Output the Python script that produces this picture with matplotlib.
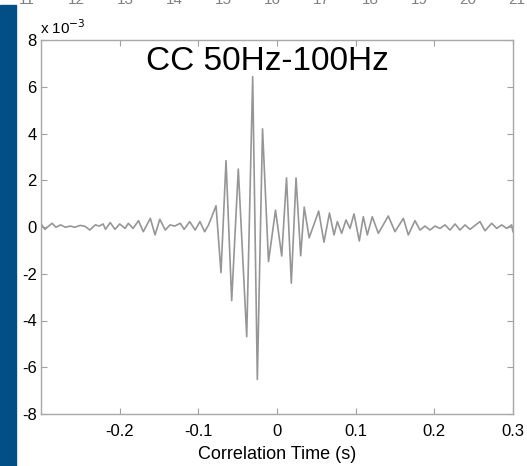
import matplotlib
matplotlib.use("Agg")
import matplotlib.pyplot as plt
from matplotlib.patches import Rectangle

plt.rcParams["font.family"] = ["Liberation Sans", "DejaVu Sans"]
plt.rcParams["axes.unicode_minus"] = False

# cross-correlation trace (time in s, amplitude in 1e-3)
t = [-0.299, -0.295, -0.286, -0.281, -0.275, -0.269, -0.263, -0.257, -0.250, -0.244,
     -0.238, -0.231, -0.226, -0.221, -0.218, -0.212, -0.206, -0.200, -0.193, -0.189,
     -0.183, -0.176, -0.170, -0.161, -0.155, -0.149, -0.142, -0.136, -0.130, -0.123,
     -0.118, -0.111, -0.104, -0.098, -0.092, -0.087,
     -0.0775, -0.0712, -0.0648, -0.0576, -0.0492, -0.0385, -0.0309, -0.0250, -0.0184,
     -0.0108, -0.0019, 0.0060, 0.0121, 0.0182, 0.0242, 0.0301, 0.0346, 0.0409, 0.0530,
     0.0597, 0.0667, 0.0725, 0.0767, 0.0822, 0.0877, 0.0928, 0.0979, 0.1046, 0.1097,
     0.1148, 0.1211, 0.1288, 0.1415, 0.1500, 0.1606, 0.1669, 0.1754, 0.1818, 0.1881,
     0.1945, 0.2008, 0.2072, 0.2136, 0.2199, 0.2263, 0.2326, 0.2390, 0.2453, 0.2580,
     0.2644, 0.2729, 0.2793, 0.2856, 0.2920, 0.2983, 0.3000]
amp = [0.09, -0.10, 0.16, -0.01, 0.09, -0.01, 0.04, -0.01, 0.07, 0.03,
       -0.13, 0.09, 0.04, 0.13, -0.10, 0.19, -0.10, 0.13, -0.06, 0.16,
       -0.06, 0.27, -0.20, 0.37, -0.34, 0.33, -0.13, 0.09, 0.04, 0.16,
       -0.10, 0.23, -0.13, 0.23, -0.20, 0.09,
       0.91, -1.95, 2.84, -3.15, 2.48, -4.69, 6.43, -6.52, 4.20,
       -1.48, 0.72, -1.24, 2.10, -2.40, 2.10, -1.23, 0.85, -0.46, 0.68,
       -0.65, 0.60, -0.34, 0.23, -0.27, 0.30, -0.06, 0.56, -0.60, 0.44,
       -0.34, 0.44, -0.27, 0.47, -0.20, 0.37, -0.34, 0.27, -0.13, 0.04,
       -0.13, 0.04, -0.06, 0.09, -0.13, 0.13, -0.13, 0.09, -0.10, 0.23,
       -0.16, 0.16, -0.06, 0.09, -0.06, 0.09, -0.20]

x_ticks = [-0.2, -0.1, 0, 0.1, 0.2, 0.3]
x_labels = ["-0.2", "-0.1", "0", "0.1", "0.2", "0.3"]
y_ticks = [-8, -6, -4, -2, 0, 2, 4, 6, 8]
slide_numbers = ["11", "12", "13", "14", "15", "16", "17", "18", "19", "20", "21"]

W, H = 527, 466
fig = plt.figure(figsize=(W / 100, H / 100), dpi=100)

# blue slide bar on the left
fig.patches.append(Rectangle((0, 0), 16 / W, 461 / H, transform=fig.transFigure,
                             color="#024e86", zorder=0))
# numbers cut off at the top edge of the slide (only their lower part shows)
for i, s in enumerate(slide_numbers):
    fig.text((27 + 49 * i) / W, 1 - 4 / H, s, fontsize=11, color="#808080",
             ha="center", va="baseline")

ax = fig.add_axes([41 / W, 1 - 414 / H, 472 / W, 374 / H])
ax.plot(t, amp, color="#969696", lw=1.2, solid_joinstyle="round")

ax.set_xlim(-0.3, 0.3)
ax.set_ylim(-8, 8)
ax.set_xticks(x_ticks)
ax.set_xticklabels(x_labels)
ax.set_yticks(y_ticks)
ax.set_yticklabels([str(v) for v in y_ticks])
ax.tick_params(direction="in", length=4, width=0.8, color="#a0a0a0",
               top=True, right=True, labelsize=12, labelcolor="black")
ax.tick_params(axis="x", pad=7)
ax.tick_params(axis="y", pad=3)
for sp in ax.spines.values():
    sp.set_color("#a8a8a8")
    sp.set_linewidth(1.0)

ax.set_xlabel("Correlation Time (s)", fontsize=13, labelpad=5)

# exponent label like MATLAB
fig.text(40 / W, 1 - 34 / H, r"x 10$^{-3}$", fontsize=11, ha="left", va="baseline")

# title inside the axes
fig.text(267 / W, 1 - 70 / H, "CC 50Hz-100Hz", fontsize=24, ha="center",
         va="baseline", color="black")

fig.savefig("out.png", dpi=100)
